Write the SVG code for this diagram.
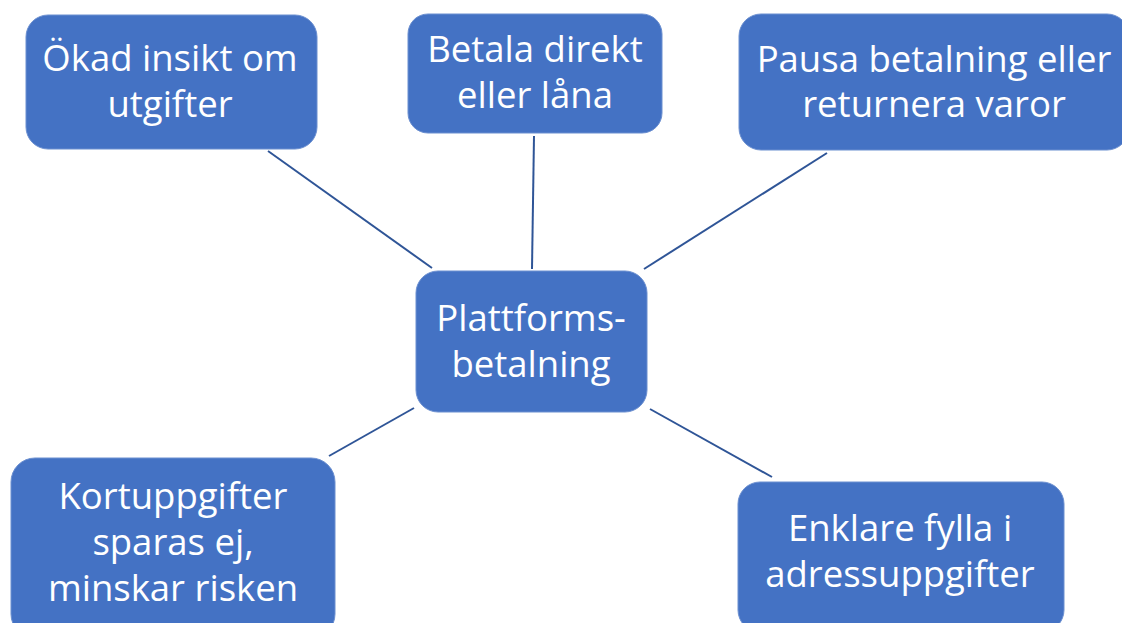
<svg xmlns="http://www.w3.org/2000/svg" width="1122" height="623" viewBox="0 0 1122 623">
<style>
.box{fill:#4472C4;stroke:#6B8FD0;stroke-width:1}
.t{font-family:"Open Sans","Liberation Sans",sans-serif;font-size:36.5px;fill:#fff;text-anchor:middle}
.c{stroke:#2F5597;stroke-width:2;fill:none}
</style>
<rect width="1122" height="623" fill="#fff"/>
<g id="connectors">
<line class="c" x1="268" y1="151" x2="432" y2="268"/>
<line class="c" x1="534" y1="136" x2="532" y2="269"/>
<line class="c" x1="827" y1="153" x2="644" y2="269"/>
<line class="c" x1="414" y1="408" x2="329" y2="456"/>
<line class="c" x1="650" y1="409" x2="772" y2="477"/>
</g>
<g id="n1"><rect class="box" x="26" y="15" width="291" height="134" rx="22"/>
<text class="t" x="170" y="71">Ökad insikt om</text><text class="t" x="170" y="117">utgifter</text></g>
<g id="n2"><rect class="box" x="408" y="14" width="254" height="119" rx="20"/>
<text class="t" x="535" y="62">Betala direkt</text><text class="t" x="535" y="108">eller låna</text></g>
<g id="n3"><rect class="box" x="739" y="14" width="390" height="136" rx="22"/>
<text class="t" x="934" y="72">Pausa betalning eller</text><text class="t" x="934" y="117">returnera varor</text></g>
<g id="center"><rect class="box" x="416" y="271" width="231" height="141" rx="22"/>
<text class="t" x="531" y="331">Plattforms-</text><text class="t" x="531" y="377">betalning</text></g>
<g id="n5"><rect class="box" x="11" y="458" width="324" height="180" rx="24"/>
<text class="t" x="173" y="509">Kortuppgifter</text><text class="t" x="173" y="555">sparas ej,</text><text class="t" x="173" y="601">minskar risken</text></g>
<g id="n6"><rect class="box" x="738" y="482" width="326" height="150" rx="22"/>
<text class="t" x="900" y="541">Enklare fylla i</text><text class="t" x="900" y="587">adressuppgifter</text></g>
</svg>
